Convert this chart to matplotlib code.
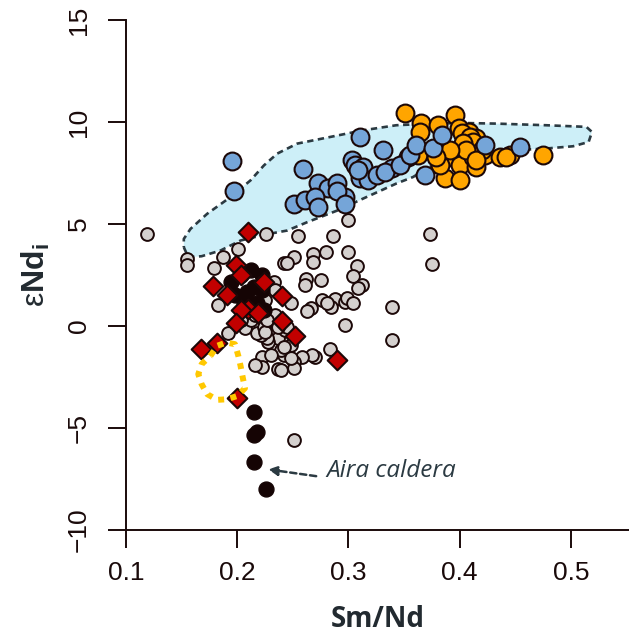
import numpy as np
import matplotlib
matplotlib.use("Agg")
from matplotlib import pyplot as plt

plt.rcParams['font.family'] = ['Liberation Sans', 'DejaVu Sans']
plt.rcParams['mathtext.fontset'] = 'custom'
plt.rcParams['mathtext.rm'] = 'Liberation Sans'
plt.rcParams['mathtext.bf'] = 'Liberation Sans:bold'
plt.rcParams['mathtext.default'] = 'regular'

# --- data (Sm/Nd, eNd_i) ---
grey_x = [0.119, 0.226, 0.255, 0.286, 0.300, 0.155, 0.155, 0.179, 0.187, 0.201,
          0.183, 0.242, 0.251, 0.245, 0.268, 0.268, 0.280, 0.300, 0.308, 0.304,
          0.312, 0.309, 0.262, 0.261, 0.275, 0.276, 0.288, 0.284, 0.281, 0.266,
          0.263, 0.297, 0.299, 0.304, 0.297, 0.339, 0.339, 0.373, 0.375, 0.283,
          0.270, 0.267, 0.258, 0.251, 0.251, 0.242, 0.237, 0.222, 0.222, 0.245,
          0.237, 0.228, 0.227, 0.221, 0.218, 0.207, 0.192, 0.224, 0.230, 0.248,
          0.233, 0.248, 0.251, 0.234, 0.225, 0.212, 0.216, 0.243, 0.234, 0.203,
          0.239, 0.230, 0.216, 0.239, 0.242, 0.248, 0.225, 0.245, 0.227, 0.237]
grey_y = [4.49, 4.49, 4.39, 4.39, 5.22, 3.29, 2.97, 2.84, 3.36, 3.78,
          1.05, 3.10, 3.40, 3.07, 3.54, 3.15, 3.61, 3.65, 2.96, 2.43,
          2.03, 1.86, 2.30, 2.01, 2.25, 1.27, 1.30, 0.95, 1.11, 0.87,
          0.74, 1.19, 1.36, 1.11, 0.05, 0.95, -0.71, 4.51, 3.04, -1.12,
          -1.52, -1.42, -1.54, -1.75, -2.08, -1.42, -2.12, -1.53, -2.00, -0.85,
          -0.60, -0.77, -0.60, -0.44, -0.36, -0.11, -0.36, -0.03, 0.29, 1.11,
          2.17, -0.93, -5.59, 1.76, 1.27, 0.29, 0.54, -0.20, 0.54, 0.29,
          -1.18, -1.42, -1.91, -2.16, -1.01, -1.58, -0.28, -0.03, 0.29, -0.03]

black_x = [0.222, 0.194, 0.209, 0.218, 0.224, 0.206, 0.215, 0.203, 0.198, 0.212, 0.222,
           0.215, 0.218, 0.215, 0.215, 0.226]
black_y = [2.50, 2.17, 1.68, 1.11, 0.78, 1.11, 1.93, 2.50, 1.52, 2.75, 1.76,
           -4.20, -5.18, -5.34, -6.65, -8.00]

orange_x = [0.351, 0.365, 0.381, 0.396, 0.399, 0.408, 0.415, 0.364, 0.387, 0.396,
            0.400, 0.387, 0.400, 0.415, 0.412, 0.423, 0.436, 0.445, 0.475, 0.382,
            0.363, 0.402, 0.409, 0.412, 0.420, 0.403, 0.406, 0.415, 0.442, 0.391,
            0.379, 0.354]
orange_y = [10.43, 9.94, 9.85, 10.34, 9.69, 9.52, 9.20, 9.51, 8.30, 8.22,
            7.89, 7.24, 7.16, 7.81, 8.30, 8.38, 8.30, 8.38, 8.38, 7.89,
            8.38, 9.45, 9.28, 9.03, 8.63, 8.96, 8.63, 8.14, 8.30, 8.63,
            8.30, 8.30]

blue_x = [0.195, 0.197, 0.259, 0.310, 0.331, 0.251, 0.261, 0.273, 0.282, 0.290,
          0.270, 0.273, 0.297, 0.303, 0.306, 0.313, 0.310, 0.318, 0.326, 0.339,
          0.333, 0.346, 0.355, 0.361, 0.369, 0.376, 0.384, 0.423, 0.454, 0.309,
          0.290, 0.297]
blue_y = [8.09, 6.62, 7.68, 9.28, 8.63, 5.98, 6.18, 7.00, 6.75, 7.00,
          6.34, 5.85, 6.34, 8.14, 7.89, 7.81, 7.24, 7.16, 7.40, 7.73,
          7.56, 7.89, 8.38, 8.87, 7.40, 8.71, 9.36, 8.87, 8.76, 7.65,
          6.60, 6.00]

red_x = [0.210, 0.199, 0.203, 0.178, 0.191, 0.224, 0.240, 0.210, 0.203, 0.199,
         0.240, 0.252, 0.167, 0.182, 0.290, 0.200, 0.219]
red_y = [4.62, 2.99, 2.50, 1.96, 1.52, 2.17, 1.47, 0.82, 0.78, 0.13,
         0.25, -0.49, -1.14, -0.85, -1.67, -3.51, 0.62]

# shaded field outline
field_x = [0.152, 0.156, 0.168, 0.185, 0.203, 0.224, 0.245, 0.263, 0.290, 0.313,
           0.343, 0.358, 0.373, 0.391, 0.418, 0.448, 0.478, 0.502, 0.516, 0.519,
           0.514, 0.478, 0.433, 0.403, 0.373, 0.343, 0.313, 0.284, 0.254, 0.236,
           0.224, 0.212, 0.194, 0.173, 0.158, 0.152]
field_y = [3.86, 3.37, 3.42, 3.70, 4.19, 4.47, 4.68, 5.09, 5.66, 6.24,
           6.98, 7.30, 7.79, 8.20, 8.45, 8.61, 8.70, 8.81, 9.02, 9.51,
           9.76, 9.84, 9.92, 9.95, 9.92, 9.84, 9.59, 9.27, 8.94, 8.45,
           7.87, 7.14, 6.32, 5.50, 4.76, 4.27]

# yellow dotted loop
loop_x = [0.176, 0.182, 0.190, 0.198, 0.201, 0.203, 0.205, 0.207, 0.200, 0.191,
          0.182, 0.173, 0.168, 0.165, 0.168, 0.176]
loop_y = [-1.46, -0.97, -0.81, -0.89, -1.46, -1.95, -2.53, -3.05, -3.43, -3.59,
          -3.62, -3.34, -2.85, -2.36, -1.87, -1.46]

edge = '#1c0808'

fig = plt.figure(figsize=(6.29, 6.34), dpi=100)
ax = fig.add_axes([0.2003, 0.164, 0.7997, 0.8045])

ax.fill(field_x, field_y, facecolor='#cdeff8', edgecolor='none', zorder=1)
ax.plot(field_x + field_x[:1], field_y + field_y[:1], color='#2b3a42', lw=1.9,
        ls=(0, (2.4, 1.7)), zorder=1.5)

ax.scatter(grey_x, grey_y, s=85, c='#d4d0ce', edgecolors=edge, linewidths=1.4, zorder=2)
ax.scatter(black_x, black_y, s=115, c='#150404', edgecolors='#150404', linewidths=1, zorder=3)
ax.scatter(orange_x, orange_y, s=165, c='#ffa500', edgecolors=edge, linewidths=1.5, zorder=4)
ax.scatter(blue_x, blue_y, s=165, c='#75a5d8', edgecolors=edge, linewidths=1.5, zorder=5)
ax.scatter(red_x, red_y, s=100, marker='D', c='#c20000', edgecolors=edge, linewidths=1.5, zorder=6)

ax.plot(loop_x, loop_y, color='#ffc800', lw=4.3, ls=(0, (1, 1.1)),
        dash_capstyle='butt', zorder=7)

ax.annotate('', xy=(0.228, -7.03), xytext=(0.271, -7.36),
            arrowprops=dict(arrowstyle='-|>,head_length=0.55,head_width=0.28',
                            color='#2b3a42', lw=1.8, ls=(0, (2.5, 1.5)),
                            shrinkA=0, shrinkB=0))
ax.text(0.280, -7.12, 'Aira caldera', style='italic', fontsize=17.5,
        family='Open Sans', color='#2b3a42', ha='left', va='center')

ax.set_xlim(0.1, 0.5523)
ax.set_ylim(-10, 15)
ax.set_xticks([0.1, 0.2, 0.3, 0.4, 0.5])
ax.set_yticks([-10, -5, 0, 5, 10, 15])
for s in ['top', 'right']:
    ax.spines[s].set_visible(False)
for s in ['left', 'bottom']:
    ax.spines[s].set_linewidth(1.4)
    ax.spines[s].set_color('#1a0a0a')
ax.tick_params(length=13, width=1.4, color='#1a0a0a', labelsize=19, labelcolor='#1a0a0a')
ax.tick_params(axis='x', pad=9.5)
ax.tick_params(axis='y', pad=12.5, labelrotation=90)
for lab in ax.get_yticklabels():
    lab.set_va('center')

ax.set_xlabel('Sm/Nd', fontsize=20, fontweight='bold', family='Open Sans',
              color='#222a30', labelpad=14)
ax.set_ylabel(r'$\varepsilon\mathbf{Nd}_{\mathbf{i}}$', fontsize=23,
              color='#222a30')
ax.yaxis.set_label_coords(-0.147, 0.5)

fig.savefig('out.png', dpi=100)
